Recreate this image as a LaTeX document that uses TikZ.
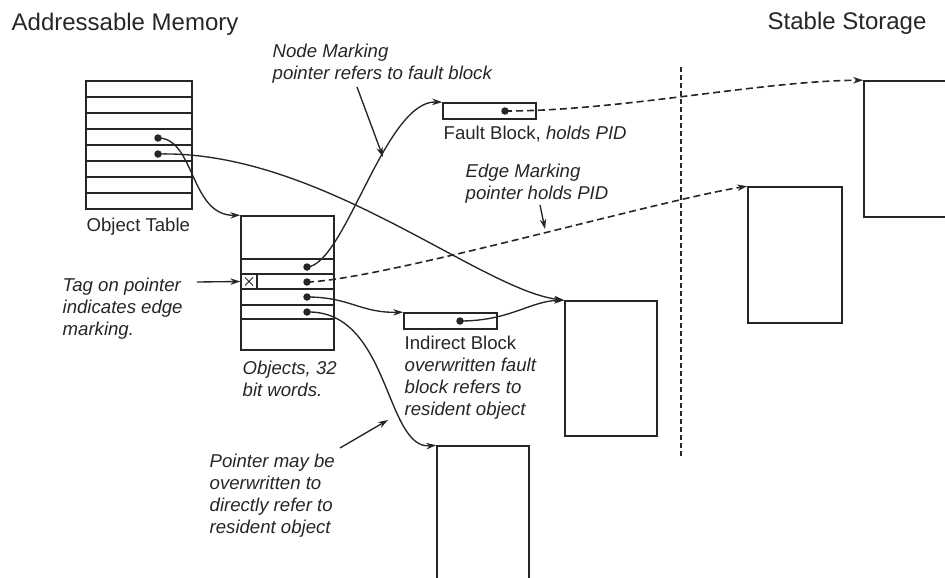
\documentclass[tikz,border=0pt]{standalone}
\usepackage{fontspec}
\setmainfont{Liberation Sans}
\usepackage{tikz}
\usetikzlibrary{arrows.meta}
\definecolor{InkGray}{HTML}{262626}

\begin{document}
\begin{tikzpicture}[x=1pt, y=-1pt, line width=1.35pt, color=InkGray,
  font=\fontsize{18.6}{22}\selectfont,
  box/.style={draw, line width=1.6pt, inner sep=0pt},
  dot/.style={circle, fill=InkGray, inner sep=0pt, minimum size=7.5pt},
  lbl/.style={anchor=north west, inner sep=0pt, align=left},
  head/.style={font=\fontsize{24}{28}\selectfont, anchor=base west, inner sep=0pt},
  ptr/.style={-{Stealth[length=10pt, width=6.5pt]}},
  pid/.style={ptr, line width=1.6pt, dash pattern=on 7pt off 4pt}]
  \useasboundingbox (0,0) rectangle (945,578);

  % headings
  \node[head] (am) at (11,31) {Addressable Memory};
  \node[head] (ss) at (767,30) {Stable Storage};

  % object table
  \node[box, minimum width=106pt, minimum height=128pt] (ot) at (139,145) {};
  \foreach \r in {97,113,...,193}
    \draw[line width=1.6pt] (ot.west |- 0,\r) -- (ot.east |- 0,\r);
  \node[lbl] (otl) at (86,217) {Object Table};
  \node[dot] (t1) at (158,138) {};
  \node[dot] (t2) at (158,154) {};

  % objects
  \node[box, minimum width=93pt, minimum height=134pt] (obj) at (287.5,283) {};
  \foreach \r in {259,274,289,305,319}
    \draw[line width=1.6pt] (obj.west |- 0,\r) -- (obj.east |- 0,\r);
  \node[box, line width=1.2pt, minimum width=16pt, minimum height=15pt] (tag) at (249,281.5) {};
  \draw[line width=1pt] ([shift={(-4,-4)}]tag.center) -- ([shift={(4,4)}]tag.center)
    ([shift={(-4,4)}]tag.center) -- ([shift={(4,-4)}]tag.center);
  \node[dot] (o1) at (307,267) {};
  \node[dot] (o2) at (307,282) {};
  \node[dot] (o3) at (307,297) {};
  \node[dot] (o4) at (307,312) {};
  \node[lbl] (objl) at (242,360) {\itshape Objects, 32\\\itshape bit words.};

  % fault and indirect blocks
  \node[box, minimum width=93pt, minimum height=16pt] (fb) at (489.5,111) {};
  \node[dot] (f1) at (505,111) {};
  \node[lbl] (fbl) at (443,125) {Fault Block, {\itshape holds PID}};
  \node[box, minimum width=93pt, minimum height=16pt] (ib) at (450.5,321) {};
  \node[dot] (i1) at (460,321) {};
  \node[lbl] (ibl) at (404,335) {Indirect Block\\\itshape overwritten fault\\\itshape block refers to\\\itshape resident object};

  % resident objects
  \node[box, minimum width=92pt, minimum height=135pt] (ra) at (611,368.5) {};
  \node[box, minimum width=92pt, minimum height=144pt] (rb) at (483,518) {};

  % stable storage
  \draw[line width=1.6pt, dash pattern=on 5pt off 3pt] (681,67) coordinate (vtop) -- (681,457) coordinate (vbot);
  \node[box, minimum width=96pt, minimum height=136pt] (s1) at (912,149) {};
  \node[box, minimum width=94pt, minimum height=136pt] (s2) at (795,255) {};

  % pointers
  \draw[ptr] (t1.center) .. controls (195,138) and (190,216) .. (obj.north west);
  \draw[ptr] (t2.center) .. controls (320,150) and (480,290) .. (ra.north west);
  \draw[ptr] (o1.center) .. controls (345,265) and (385,100) .. (fb.north west);
  \draw[ptr] (o3.center) .. controls (350,297) and (360,313) .. (ib.north west);
  \draw[ptr] (o4.center) .. controls (390,310) and (385,450) .. (rb.north west);
  \draw[ptr] (i1.center) .. controls (510,321) and (530,301) .. (ra.north west);
  \draw[pid] (f1.center) .. controls (620,111) and (760,81) .. (s1.north west);
  \draw[pid] (o2.center) .. controls (380,280) and (660,200) .. (s2.north west);

  % notes
  \node[lbl] (nm) at (272,43) {\itshape Node Marking\\\itshape pointer refers to fault block};
  \coordinate (nmA) at (357,87);
  \coordinate (nmB) at (383,157);
  \draw[ptr] (nmA) -- (nmB);
  \node[lbl] (em) at (465,163) {\itshape Edge Marking\\\itshape pointer holds PID};
  \coordinate (emA) at (540,205);
  \coordinate (emB) at (545,229);
  \draw[ptr] (emA) -- (emB);
  \node[lbl] (tg) at (62,277) {\itshape Tag on pointer\\\itshape indicates edge\\\itshape marking.};
  \coordinate (tgA) at (197,282);
  \draw[ptr] (tgA) -- (tag.west);
  \node[lbl] (pm) at (209,453) {\itshape Pointer may be\\\itshape overwritten to\\\itshape directly refer to\\\itshape resident object};
  \coordinate (pmA) at (340,448);
  \coordinate (pmB) at (388,420);
  \draw[ptr] (pmA) -- (pmB);
\end{tikzpicture}
\end{document}
